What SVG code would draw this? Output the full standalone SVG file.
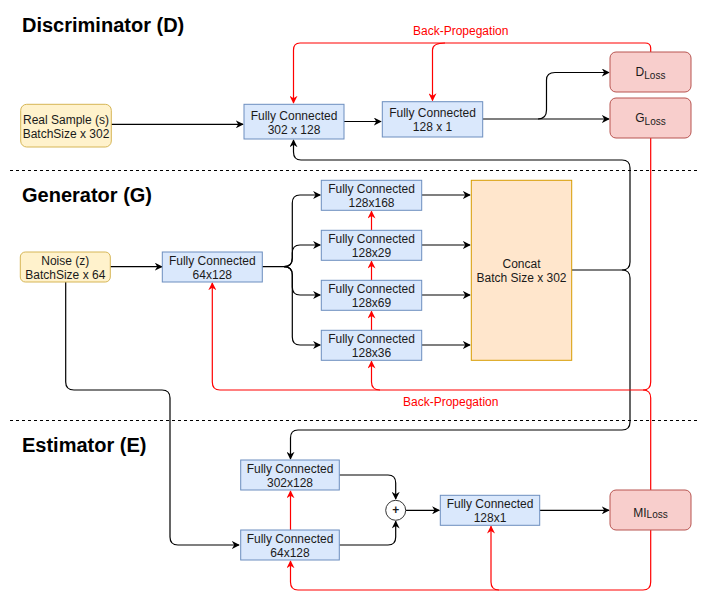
<svg xmlns="http://www.w3.org/2000/svg" width="712" height="609" viewBox="0 0 712 609">
<style>
text{font-family:"Liberation Sans",Arial,sans-serif;font-size:12px;fill:#1a1a1a;text-anchor:middle}
.title{font-size:20px;font-weight:bold;text-anchor:start;fill:#000}
.fc{fill:#dae8fc;stroke:#6c8ebf;stroke-width:1}
.inp{fill:#fff2cc;stroke:#d6b656;stroke-width:1}
.loss{fill:#f8cecc;stroke:#b85450;stroke-width:1}
.cat{fill:#ffe6cc;stroke:#d79b00;stroke-width:1}
.k{fill:none;stroke:#000;stroke-width:1.2}
.r{fill:none;stroke:#ff0000;stroke-width:1.2}
.rl{fill:#ff0000}
.dash{stroke:#000;stroke-width:1;stroke-dasharray:3 3}
</style>
<defs>
<marker id="ak" viewBox="0 0 10 10" refX="9" refY="5" markerWidth="8" markerHeight="8" markerUnits="userSpaceOnUse" orient="auto"><path d="M0,0 L10,5 L0,10 L3,5 z" fill="#000"/></marker>
<marker id="ar" viewBox="0 0 10 10" refX="9" refY="5" markerWidth="8" markerHeight="8" markerUnits="userSpaceOnUse" orient="auto"><path d="M0,0 L10,5 L0,10 L3,5 z" fill="#ff0000"/></marker>
</defs>
<rect width="712" height="609" fill="#fff"/>

<text class="title" x="22" y="32">Discriminator (D)</text>
<text class="title" x="22" y="202">Generator (G)</text>
<text class="title" x="22" y="452">Estimator (E)</text>
<line class="dash" x1="10" y1="170.5" x2="698" y2="170.5"/>
<line class="dash" x1="10" y1="420.5" x2="698" y2="420.5"/>

<g id="connectors">
<!-- discriminator -->
<path class="k" d="M111,124.3 L243,124.3" marker-end="url(#ak)"/>
<path class="k" d="M344,121.5 L381,121.5" marker-end="url(#ak)"/>
<path class="k" d="M482.7,119 L609,119" marker-end="url(#ak)"/>
<path class="k" d="M538,119 Q546.5,119 546.5,110 L546.5,80 Q546.5,72.5 555,72.5 L609,72.5" marker-end="url(#ak)"/>
<path class="r" d="M650.7,52 L650.7,48 Q650.7,43 645,43 L300,43 Q293.5,43 293.5,50 L293.5,103" marker-end="url(#ar)"/>
<path class="r" d="M445,43 Q432.5,43 432.5,50 L432.5,100.5" marker-end="url(#ar)"/>
<!-- concat to D and E -->
<path class="k" d="M572,270 L622,270 Q630,270 630,262 L630,168 Q630,160 622,160 L301,160 Q293.5,160 293.5,152 L293.5,140" marker-end="url(#ak)"/>
<path class="k" d="M622,270 Q630,270 630,278 L630,422 Q630,430 622,430 L298,430 Q290.5,430 290.5,438 L290.5,459" marker-end="url(#ak)"/>
<!-- generator -->
<path class="k" d="M110,266.7 L162,266.7" marker-end="url(#ak)"/>
<path class="k" d="M262,266.7 L284,266.7 Q292.3,266.7 292.3,258 L292.3,203 Q292.3,195 300,195 L320.3,195" marker-end="url(#ak)"/>
<path class="k" d="M284,266.7 Q292.3,266.7 292.3,258 L292.3,253 Q292.3,245 300,245 L320.3,245" marker-end="url(#ak)"/>
<path class="k" d="M284,266.7 Q292.3,266.7 292.3,275 L292.3,287 Q292.3,295 300,295 L320.3,295" marker-end="url(#ak)"/>
<path class="k" d="M284,266.7 Q292.3,266.7 292.3,275 L292.3,337 Q292.3,345 300,345 L320.3,345" marker-end="url(#ak)"/>
<path class="k" d="M421.7,195 L470,195" marker-end="url(#ak)"/>
<path class="k" d="M421.7,245 L470,245" marker-end="url(#ak)"/>
<path class="k" d="M421.7,295 L470,295" marker-end="url(#ak)"/>
<path class="k" d="M421.7,345 L470,345" marker-end="url(#ak)"/>
<path class="r" d="M371.5,330.3 L371.5,311.3" marker-end="url(#ar)"/>
<path class="r" d="M371.5,280.3 L371.5,261.3" marker-end="url(#ar)"/>
<path class="r" d="M371.5,230.3 L371.5,211.3" marker-end="url(#ar)"/>
<!-- back-prop generator -->
<path class="r" d="M650.7,138 L650.7,382 Q650.7,390 643,390 L220,390 Q212.3,390 212.3,382 L212.3,283" marker-end="url(#ar)"/>
<path class="r" d="M650.7,490 L650.7,398 Q650.7,390 643,390"/>
<path class="r" d="M380,390 Q371.5,390 371.5,382 L371.5,361.3" marker-end="url(#ar)"/>
<!-- noise to estimator -->
<path class="k" d="M65.7,282 L65.7,382 Q65.7,390 74,390 L162,390 Q170,390 170,398 L170,537 Q170,545 178,545 L239,545" marker-end="url(#ak)"/>
<!-- estimator -->
<path class="k" d="M339.3,475 L388,475 Q395.7,475 395.7,483 L395.7,499" marker-end="url(#ak)"/>
<path class="k" d="M339.3,545 L388,545 Q395.7,545 395.7,537 L395.7,521.3" marker-end="url(#ak)"/>
<path class="k" d="M405.7,510.3 L439.3,510.3" marker-end="url(#ak)"/>
<path class="k" d="M539.7,510.3 L609,510.3" marker-end="url(#ak)"/>
<path class="r" d="M290.5,530 L290.5,491" marker-end="url(#ar)"/>
<path class="r" d="M650.7,530 L650.7,582 Q650.7,590 643,590 L298,590 Q290.5,590 290.5,582 L290.5,561" marker-end="url(#ar)"/>
<path class="r" d="M499,590 Q491,590 491,582 L491,526.3" marker-end="url(#ar)"/>
</g>
<text class="rl" x="460.7" y="35">Back-Propegation</text>
<text class="rl" x="450.7" y="406">Back-Propegation</text>

<g id="real-sample"><rect class="inp" x="20.7" y="104.3" width="90.6" height="42.7" rx="6"/><text x="66" y="124">Real Sample (s)</text><text x="66" y="138">BatchSize x 302</text></g>
<g id="d-fc1"><rect class="fc" x="244" y="104.3" width="100" height="34.7"/><text x="294" y="120">Fully Connected</text><text x="294" y="133.5">302 x 128</text></g>
<g id="d-fc2"><rect class="fc" x="382.3" y="101.7" width="100.4" height="35.3"/><text x="432.5" y="117">Fully Connected</text><text x="432.5" y="131">128 x 1</text></g>
<g id="d-loss"><rect class="loss" x="610" y="52" width="81" height="40" rx="6"/><text x="650.5" y="76">D<tspan font-size="10" dy="3">Loss</tspan></text></g>
<g id="g-loss"><rect class="loss" x="610" y="98" width="81" height="40" rx="6"/><text x="650.5" y="121.5">G<tspan font-size="10" dy="3">Loss</tspan></text></g>

<g id="noise"><rect class="inp" x="20.3" y="252" width="90" height="30" rx="5"/><text x="65.3" y="265">Noise (z)</text><text x="65.3" y="279">BatchSize x 64</text></g>
<g id="g-fc0"><rect class="fc" x="162.3" y="252" width="100" height="30"/><text x="212.3" y="265">Fully Connected</text><text x="212.3" y="279">64x128</text></g>
<g id="g-fc168"><rect class="fc" x="321.3" y="180.3" width="100.4" height="30"/><text x="371.5" y="193">Fully Connected</text><text x="371.5" y="206.5">128x168</text></g>
<g id="g-fc29"><rect class="fc" x="321.3" y="230.3" width="100.4" height="30"/><text x="371.5" y="243">Fully Connected</text><text x="371.5" y="256.5">128x29</text></g>
<g id="g-fc69"><rect class="fc" x="321.3" y="280.3" width="100.4" height="30"/><text x="371.5" y="293">Fully Connected</text><text x="371.5" y="306.5">128x69</text></g>
<g id="g-fc36"><rect class="fc" x="321.3" y="330.3" width="100.4" height="30"/><text x="371.5" y="343">Fully Connected</text><text x="371.5" y="356.5">128x36</text></g>
<g id="concat"><rect class="cat" x="471.3" y="180.3" width="100.4" height="180"/><text x="521.5" y="267.5">Concat</text><text x="521.5" y="281.5">Batch Size x 302</text></g>

<g id="e-fc302"><rect class="fc" x="240.7" y="460" width="98.6" height="30"/><text x="290" y="473">Fully Connected</text><text x="290" y="487">302x128</text></g>
<g id="e-fc64"><rect class="fc" x="240.7" y="530" width="98.6" height="30"/><text x="290" y="543">Fully Connected</text><text x="290" y="557">64x128</text></g>
<g id="plus"><circle cx="395.7" cy="510.3" r="10" fill="#fff" stroke="#333" stroke-width="1"/><text x="395.7" y="514.3" font-size="11" font-weight="bold">+</text></g>
<g id="e-fc1"><rect class="fc" x="440.3" y="495.3" width="99.4" height="30"/><text x="490" y="508">Fully Connected</text><text x="490" y="521.5">128x1</text></g>
<g id="mi-loss"><rect class="loss" x="610" y="490" width="81" height="40" rx="6"/><text x="650.5" y="516.5">MI<tspan font-size="10" dy="1">Loss</tspan></text></g>
</svg>
